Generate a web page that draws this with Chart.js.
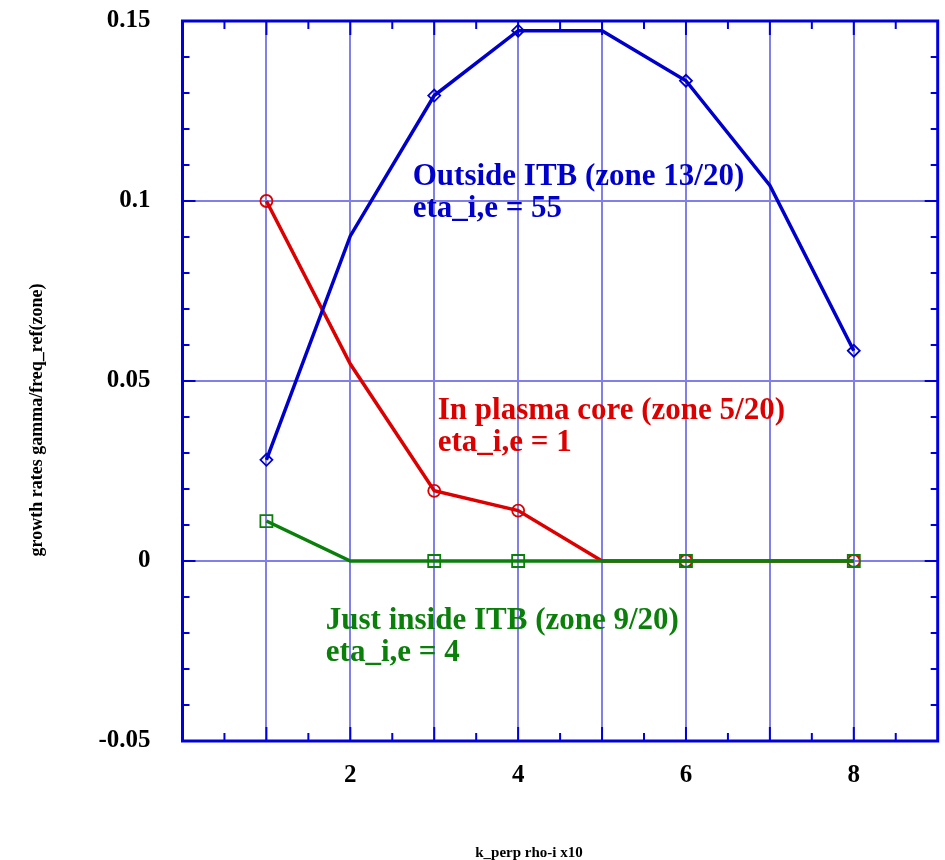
<!DOCTYPE html>
<html>
<head>
<meta charset="utf-8">
<script src="https://cdn.jsdelivr.net/npm/chart.js@4.4.1/dist/chart.umd.min.js"></script>
<style>
  body { margin: 0; background: #fff; overflow: hidden; }
  #wrap { width: 948px; height: 860px; }
</style>
</head>
<body>
<div id="wrap"><canvas id="growthChart"></canvas></div>
<script>
// k_perp rho-i x10
var kperp = [1, 2, 3, 4, 5, 6, 7, 8];
// growth rates, one list per zone
var outsideItb = [0.0281, 0.0903, 0.1293, 0.1473, 0.1473, 0.1334, 0.1043, 0.0584];
var plasmaCore = [0.1000, 0.0547, 0.0195, 0.0140, 0, 0, 0, 0];
var insideItb = [0.0111, 0, 0, 0, 0, 0, 0, 0];
// only these k values carry a symbol
var markedK = [1, 3, 4, 6, 8];
var xTickLabels = [2, 4, 6, 8];
var yTickLabels = [-0.05, 0, 0.05, 0.1, 0.15];

var BLUE = '#0000cc';
var RED = '#dd0000';
var GREEN = '#0a7f0a';
var SERIF = "'Liberation Serif', 'Times New Roman', serif";

var notes = [
  { lines: ['Outside ITB (zone 13/20)', 'eta_i,e = 55'], x: 2.744, y: 0.1045, color: BLUE },
  { lines: ['In plasma core (zone 5/20)', 'eta_i,e = 1'], x: 3.042, y: 0.0394, color: RED },
  { lines: ['Just inside ITB (zone 9/20)', 'eta_i,e = 4'], x: 1.708, y: -0.0189, color: GREEN }
];

function points(ys) {
  return kperp.map(function (k, i) { return { x: k, y: ys[i] }; });
}

function markerRadius(r) {
  return function (ctx) {
    return markedK.includes(kperp[ctx.dataIndex]) ? r : 0;
  };
}

function series(label, ys, color, shape, r) {
  return {
    label: label,
    data: points(ys),
    borderColor: color,
    backgroundColor: 'rgba(0,0,0,0)',
    borderWidth: 3.5,
    pointStyle: shape,
    pointRadius: markerRadius(r),
    pointHoverRadius: markerRadius(r),
    pointBorderWidth: 1.8,
    pointBorderColor: color,
    pointBackgroundColor: 'rgba(0,0,0,0)',
    tension: 0
  };
}

// frame, inward ticks, notes and axis titles
var decorations = {
  id: 'decorations',
  beforeDatasetsDraw: function (chart) {
    var c = chart.ctx, a = chart.chartArea;
    var xs = chart.scales.x, ys = chart.scales.y;
    c.save();
    c.strokeStyle = '#0000dd';
    c.lineWidth = 2;
    c.beginPath();
    for (var v = 0.5; v < 9; v += 0.5) {
      var px = xs.getPixelForValue(v);
      var len = (v % 1 === 0) ? 14 : 8;
      c.moveTo(px, a.top); c.lineTo(px, a.top + len);
      c.moveTo(px, a.bottom); c.lineTo(px, a.bottom - len);
    }
    for (var i = -4; i < 15; i++) {
      var py = ys.getPixelForValue(i / 100);
      var l = (i % 5 === 0) ? 13 : 7;
      c.moveTo(a.left, py); c.lineTo(a.left + l, py);
      c.moveTo(a.right, py); c.lineTo(a.right - l, py);
    }
    c.stroke();
    c.lineWidth = 3;
    c.strokeRect(a.left, a.top, a.right - a.left, a.bottom - a.top);
    c.restore();
  },
  afterDraw: function (chart) {
    var c = chart.ctx;
    var xs = chart.scales.x, ys = chart.scales.y;
    c.save();
    c.textBaseline = 'alphabetic';
    c.textAlign = 'left';
    c.font = 'bold 31px ' + SERIF;
    notes.forEach(function (n) {
      c.fillStyle = n.color;
      var px = xs.getPixelForValue(n.x);
      var py = ys.getPixelForValue(n.y);
      n.lines.forEach(function (t, j) {
        c.fillText(t, px, py + j * 32);
      });
    });
    c.fillStyle = '#000';
    c.textAlign = 'center';
    c.font = 'bold 15px ' + SERIF;
    c.fillText('k_perp rho-i x10', 529, 857);
    c.translate(42, 420);
    c.rotate(-Math.PI / 2);
    c.font = 'bold 18px ' + SERIF;
    c.fillText('growth rates gamma/freq_ref(zone)', 0, 0);
    c.restore();
  }
};

var ctx = document.getElementById('growthChart').getContext('2d');
var chart = new Chart(ctx, {
  type: 'line',
  data: {
    datasets: [
      series('Outside ITB', outsideItb, BLUE, 'rectRot', 6),
      series('Just inside ITB', insideItb, GREEN, 'rect', 8.5),
      series('In plasma core', plasmaCore, RED, 'circle', 6)
    ]
  },
  options: {
    responsive: true,
    maintainAspectRatio: false,
    animation: false,
    layout: { padding: { left: 0, right: 0, top: 21, bottom: 0 } },
    plugins: {
      legend: { display: false },
      tooltip: { enabled: false }
    },
    scales: {
      x: {
        type: 'linear',
        min: 0,
        max: 9,
        afterFit: function (s) {
          s.height = 119;
          s.paddingLeft = 0;
          s.paddingRight = 0;
        },
        grid: { color: '#8080e8', lineWidth: 2, drawTicks: false },
        border: { display: false },
        ticks: {
          stepSize: 1,
          padding: 20,
          color: '#000',
          font: { family: SERIF, size: 25, weight: 'bold' },
          callback: function (v) { return xTickLabels.includes(v) ? String(v) : ''; }
        }
      },
      y: {
        min: -0.05,
        max: 0.15,
        afterFit: function (s) {
          s.width = 182.5;
          s.paddingTop = 0;
          s.paddingBottom = 0;
        },
        grid: { color: '#8080e8', lineWidth: 2, drawTicks: false },
        border: { display: false },
        ticks: {
          stepSize: 0.05,
          padding: 32,
          color: '#000',
          font: { family: SERIF, size: 25, weight: 'bold' },
          callback: function (v) {
            var r = Math.round(v * 100) / 100;
            return yTickLabels.includes(r) ? String(r) : '';
          }
        }
      }
    }
  },
  plugins: [decorations]
});
</script>
</body>
</html>
